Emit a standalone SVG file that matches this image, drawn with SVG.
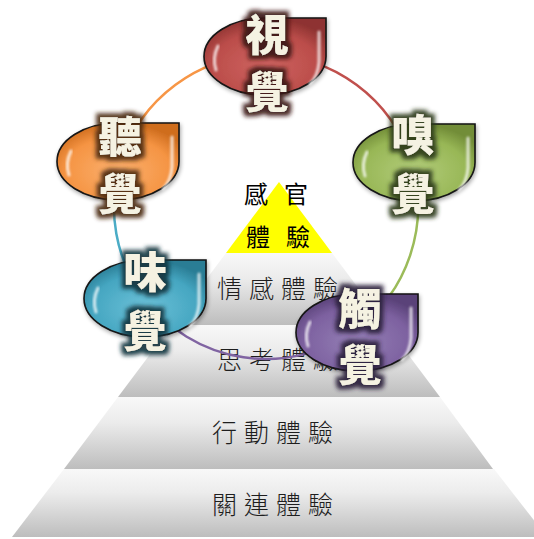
<svg xmlns="http://www.w3.org/2000/svg" xmlns:xlink="http://www.w3.org/1999/xlink" width="534" height="539" viewBox="0 0 534 539">
  <defs>
    <style>
      .tier { stroke: none; }
      .tier-label { font-family: "Noto Sans CJK TC", "Noto Sans CJK SC", sans-serif; font-size: 25px; font-weight: 300; fill: #1e1e1e; text-anchor: middle; letter-spacing: 7px; }
      .apex-label { font-family: "Noto Sans CJK TC", "Noto Sans CJK SC", sans-serif; font-size: 24px; font-weight: 400; fill: #000000; text-anchor: middle; letter-spacing: 16px; }
      .link { fill: none; stroke-width: 2.5; stroke-linecap: round; }
      .drop { stroke: #141414; stroke-width: 1.6; }
      .gloss { fill: none; stroke: #ffffff; stroke-linecap: round; stroke-opacity: 0.75; }
      .sense { font-family: "Noto Sans CJK TC", "Noto Sans CJK SC", sans-serif; font-size: 43px; font-weight: 900; fill: #f5f2e2; text-anchor: middle; }
    </style>

    <!-- tier shading: light top, grey bottom -->
    <linearGradient id="tierFill" x1="0" y1="0" x2="0" y2="1">
      <stop offset="0" stop-color="#f8f8f8"/>
      <stop offset="0.35" stop-color="#ececec"/>
      <stop offset="1" stop-color="#bdbdbd"/>
    </linearGradient>

    <!-- teardrop outline, 122 x 77, square top-right corner -->
    <path id="drop" d="M0,38.5 A61,38.5 0 0 1 61,0 L122,0 L122,38.5 A61,38.5 0 0 1 61,77 A61,38.5 0 0 1 0,38.5 Z"/>

    <radialGradient id="gRed" cx="0.5" cy="0.62" r="0.62">
      <stop offset="0" stop-color="#cf6461"/>
      <stop offset="0.7" stop-color="#bb4d4a"/>
      <stop offset="1" stop-color="#8e3331"/>
    </radialGradient>
    <radialGradient id="gOrange" cx="0.5" cy="0.62" r="0.62">
      <stop offset="0" stop-color="#fbb06e"/>
      <stop offset="0.7" stop-color="#f59443"/>
      <stop offset="1" stop-color="#cf6d1e"/>
    </radialGradient>
    <radialGradient id="gGreen" cx="0.5" cy="0.62" r="0.62">
      <stop offset="0" stop-color="#b2cc7a"/>
      <stop offset="0.7" stop-color="#98b756"/>
      <stop offset="1" stop-color="#728d38"/>
    </radialGradient>
    <radialGradient id="gTeal" cx="0.5" cy="0.62" r="0.62">
      <stop offset="0" stop-color="#6cc1d8"/>
      <stop offset="0.7" stop-color="#45a6c1"/>
      <stop offset="1" stop-color="#2a7d95"/>
    </radialGradient>
    <radialGradient id="gPurple" cx="0.5" cy="0.62" r="0.62">
      <stop offset="0" stop-color="#9580b6"/>
      <stop offset="0.7" stop-color="#7d61a0"/>
      <stop offset="1" stop-color="#5a4279"/>
    </radialGradient>

    <!-- soft shadow under each teardrop -->
    <filter id="shade" x="-20%" y="-20%" width="140%" height="150%">
      <feGaussianBlur in="SourceAlpha" stdDeviation="2"/>
      <feOffset dx="1" dy="2" result="s"/>
      <feComponentTransfer in="s" result="s2"><feFuncA type="linear" slope="0.35"/></feComponentTransfer>
      <feMerge><feMergeNode in="s2"/><feMergeNode in="SourceGraphic"/></feMerge>
    </filter>

    <filter id="blurGloss" x="-50%" y="-50%" width="200%" height="200%">
      <feGaussianBlur stdDeviation="0.8"/>
    </filter>

    <!-- dark halo behind the large glyphs, one tint per colour -->
    <filter id="haloRed" x="-30%" y="-30%" width="160%" height="160%">
      <feMorphology in="SourceAlpha" operator="dilate" radius="3.5"/>
      <feGaussianBlur stdDeviation="2.2" result="a"/>
      <feFlood flood-color="#3a1614" flood-opacity="0.92"/>
      <feComposite in2="a" operator="in" result="h"/>
      <feMerge><feMergeNode in="h"/><feMergeNode in="SourceGraphic"/></feMerge>
    </filter>
    <filter id="haloOrange" x="-30%" y="-30%" width="160%" height="160%">
      <feMorphology in="SourceAlpha" operator="dilate" radius="3.5"/>
      <feGaussianBlur stdDeviation="2.2" result="a"/>
      <feFlood flood-color="#4a2a12" flood-opacity="0.92"/>
      <feComposite in2="a" operator="in" result="h"/>
      <feMerge><feMergeNode in="h"/><feMergeNode in="SourceGraphic"/></feMerge>
    </filter>
    <filter id="haloGreen" x="-30%" y="-30%" width="160%" height="160%">
      <feMorphology in="SourceAlpha" operator="dilate" radius="3.5"/>
      <feGaussianBlur stdDeviation="2.2" result="a"/>
      <feFlood flood-color="#2c3a1a" flood-opacity="0.92"/>
      <feComposite in2="a" operator="in" result="h"/>
      <feMerge><feMergeNode in="h"/><feMergeNode in="SourceGraphic"/></feMerge>
    </filter>
    <filter id="haloTeal" x="-30%" y="-30%" width="160%" height="160%">
      <feMorphology in="SourceAlpha" operator="dilate" radius="3.5"/>
      <feGaussianBlur stdDeviation="2.2" result="a"/>
      <feFlood flood-color="#13343e" flood-opacity="0.92"/>
      <feComposite in2="a" operator="in" result="h"/>
      <feMerge><feMergeNode in="h"/><feMergeNode in="SourceGraphic"/></feMerge>
    </filter>
    <filter id="haloPurple" x="-30%" y="-30%" width="160%" height="160%">
      <feMorphology in="SourceAlpha" operator="dilate" radius="3.5"/>
      <feGaussianBlur stdDeviation="2.2" result="a"/>
      <feFlood flood-color="#2a1f3a" flood-opacity="0.92"/>
      <feComposite in2="a" operator="in" result="h"/>
      <feMerge><feMergeNode in="h"/><feMergeNode in="SourceGraphic"/></feMerge>
    </filter>
  </defs>

  <rect width="534" height="539" fill="#ffffff"/>

  <!-- experience pyramid -->
  <g id="pyramid">
    <g id="tier-relate">
      <polygon class="tier" points="64,469 494,469 547,537 12,537" fill="url(#tierFill)"/>
      <text class="tier-label" x="276" y="514">關連體驗</text>
    </g>
    <g id="tier-act">
      <polygon class="tier" points="118,397 440,397 493,469 64,469" fill="url(#tierFill)"/>
      <text class="tier-label" x="276" y="442">行動體驗</text>
    </g>
    <g id="tier-think">
      <polygon class="tier" points="172,325 386,325 440,397 118,397" fill="url(#tierFill)"/>
      <text class="tier-label" x="281" y="369">思考體驗</text>
    </g>
    <g id="tier-feel">
      <polygon class="tier" points="226,253 332,253 386,325 172,325" fill="url(#tierFill)"/>
      <text class="tier-label" x="281" y="298">情感體驗</text>
    </g>
    <g id="tier-sense">
      <polygon points="279,182 332,253 226,253" fill="#ffff00"/>
      <text class="apex-label" x="284" y="203">感官</text>
      <text class="apex-label" x="286" y="246">體驗</text>
    </g>
  </g>

  <!-- cycle arcs, each in the colour of the node it leaves -->
  <g id="connectors">
    <path class="link" stroke="#c0504d" d="M266,55 A152,152 0 0 1 411.4,162.6"/>
    <path class="link" stroke="#9bbb59" d="M411.4,162.6 A152,152 0 0 1 355.3,330"/>
    <path class="link" stroke="#8064a2" d="M355.3,330 A152,152 0 0 1 144.6,298.5"/>
    <path class="link" stroke="#4bacc6" d="M144.6,298.5 A152,152 0 0 1 120.6,162.6"/>
    <path class="link" stroke="#f79646" d="M120.6,162.6 A152,152 0 0 1 266,55"/>
  </g>

  <!-- sense nodes -->
  <g id="node-sight" transform="translate(204,18)">
    <use href="#drop" class="drop" fill="url(#gRed)" filter="url(#shade)"/>
    <path class="gloss" stroke-width="3" filter="url(#blurGloss)" d="M14,28 Q8,40 12,52"/>
    <path class="gloss" stroke-width="3" filter="url(#blurGloss)" d="M115,14 L115,44 Q114,58 106,66"/>
    <g filter="url(#haloRed)">
      <text class="sense" x="63" y="33">視</text>
      <text class="sense" x="63" y="90">覺</text>
    </g>
  </g>

  <g id="node-hearing" transform="translate(57,123)">
    <use href="#drop" class="drop" fill="url(#gOrange)" filter="url(#shade)"/>
    <path class="gloss" stroke-width="3" filter="url(#blurGloss)" d="M14,28 Q8,40 12,52"/>
    <path class="gloss" stroke-width="3" filter="url(#blurGloss)" d="M115,14 L115,44 Q114,58 106,66"/>
    <g filter="url(#haloOrange)">
      <text class="sense" x="63" y="30">聽</text>
      <text class="sense" x="63" y="87">覺</text>
    </g>
  </g>

  <g id="node-smell" transform="translate(353,124)">
    <use href="#drop" class="drop" fill="url(#gGreen)" filter="url(#shade)"/>
    <path class="gloss" stroke-width="3" filter="url(#blurGloss)" d="M14,28 Q8,40 12,52"/>
    <path class="gloss" stroke-width="3" filter="url(#blurGloss)" d="M115,14 L115,44 Q114,58 106,66"/>
    <g filter="url(#haloGreen)">
      <text class="sense" x="60" y="27">嗅</text>
      <text class="sense" x="60" y="86">覺</text>
    </g>
  </g>

  <g id="node-taste" transform="translate(84,260)">
    <use href="#drop" class="drop" fill="url(#gTeal)" filter="url(#shade)"/>
    <path class="gloss" stroke-width="3" filter="url(#blurGloss)" d="M14,28 Q8,40 12,52"/>
    <path class="gloss" stroke-width="3" filter="url(#blurGloss)" d="M115,14 L115,44 Q114,58 106,66"/>
    <g filter="url(#haloTeal)">
      <text class="sense" x="61" y="28">味</text>
      <text class="sense" x="61" y="87">覺</text>
    </g>
  </g>

  <g id="node-touch" transform="translate(296,294)">
    <use href="#drop" class="drop" fill="url(#gPurple)" filter="url(#shade)"/>
    <path class="gloss" stroke-width="3" filter="url(#blurGloss)" d="M14,28 Q8,40 12,52"/>
    <path class="gloss" stroke-width="3" filter="url(#blurGloss)" d="M115,14 L115,44 Q114,58 106,66"/>
    <g filter="url(#haloPurple)">
      <text class="sense" x="64" y="31">觸</text>
      <text class="sense" x="64" y="87">覺</text>
    </g>
  </g>
</svg>
